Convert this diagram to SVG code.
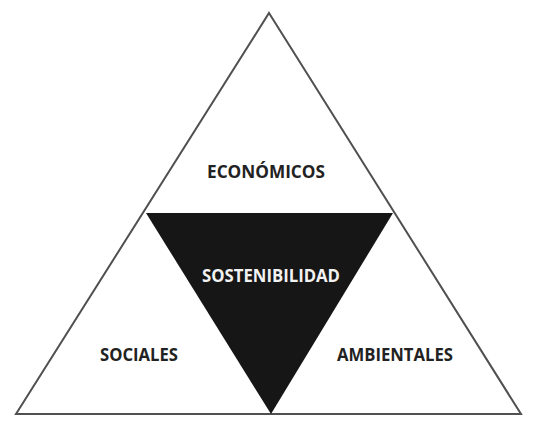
<svg xmlns="http://www.w3.org/2000/svg" width="537" height="424" viewBox="0 0 537 424">
<style>
.lbl{font-family:"Open Sans","Liberation Sans",sans-serif;font-weight:bold;font-size:18px;text-anchor:middle;fill:#222222}
.w{fill:#f2f2f2}
</style>
<rect width="537" height="424" fill="#ffffff"/>
<g id="outer"><polygon points="269,13 521,414 16,414" fill="#ffffff" stroke="#505050" stroke-width="2"/></g>
<g id="center"><polygon points="146,213 393,213 271,414" fill="#161616"/>
<text class="lbl w" x="271" y="282" textLength="138" lengthAdjust="spacingAndGlyphs">SOSTENIBILIDAD</text></g>
<g id="economicos"><text class="lbl" x="266" y="178" textLength="118" lengthAdjust="spacingAndGlyphs">ECONÓMICOS</text></g>
<g id="sociales"><text class="lbl" x="139" y="361" textLength="78" lengthAdjust="spacingAndGlyphs">SOCIALES</text></g>
<g id="ambientales"><text class="lbl" x="395" y="361" textLength="116" lengthAdjust="spacingAndGlyphs">AMBIENTALES</text></g>
<g id="connectors"></g>
</svg>
